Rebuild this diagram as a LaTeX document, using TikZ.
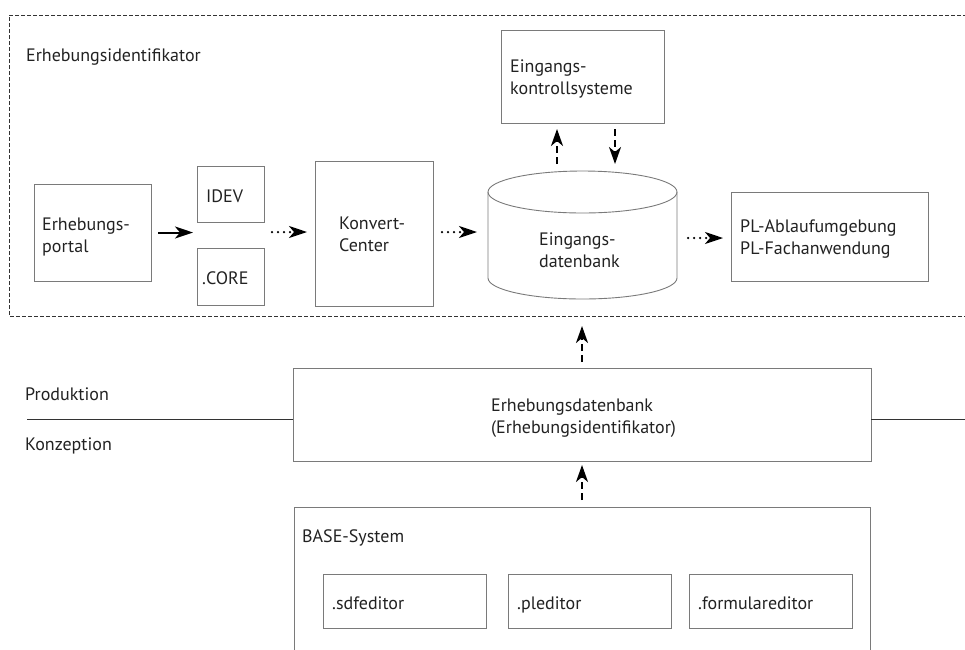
\documentclass[tikz,border=0pt]{standalone}
\usepackage{fontspec}
\setmainfont{PT Sans}
\usetikzlibrary{arrows.meta}
\definecolor{boxgray}{HTML}{7A7A7A}
\definecolor{txt}{HTML}{222222}
\definecolor{linegray}{HTML}{333333}
\tikzset{
  box/.style={draw=boxgray,line width=0.9pt,inner sep=0pt,outer sep=0pt},
  ghost/.style={inner sep=0pt,outer sep=0pt},
  lbl/.style={anchor=base west,inner sep=0pt,align=left,text=txt,font=\fontsize{18}{22}\selectfont},
  tipa/.style={-{Stealth[length=18pt,width=12pt,inset=5pt]}},
  solidarr/.style={tipa,line width=2pt,draw=black},
  dotarr/.style={tipa,line width=2.5pt,draw=black,line cap=round,dash pattern=on 0pt off 6pt},
  dasharr/.style={-{Stealth[length=17pt,width=12pt,inset=5pt]},line width=2.2pt,draw=black,dash pattern=on 7pt off 4pt},
  areaborder/.style={draw=linegray,line width=0.8pt,dash pattern=on 4pt off 2pt},
  sepline/.style={draw=linegray,line width=0.9pt}
}
\begin{document}
\begin{tikzpicture}[x=1pt,y=-1pt]
\useasboundingbox (0,0) rectangle (965,649);
\clip (0,0) rectangle (965,649);

% dashed area
\node[ghost,minimum width=958,minimum height=301] (area) at (488,165.5) {};
\draw[areaborder] (area.north east) -- (area.north west) -- (area.south west) -- (area.south east);
\node[lbl] (areat) at (26,61) {Erhebungsidentifikator};

% boxes (two-line labels are placed at the baseline of their last line)
\node[box,minimum width=117,minimum height=97] (portal) at (92.5,232.5) {};
\node[lbl] (portalt) at (42,252) {Erhebungs-\\portal};
\node[box,minimum width=67,minimum height=56] (idev) at (230.5,194) {};
\node[lbl] (idevt) at (206,202) {IDEV};
\node[box,minimum width=67,minimum height=57] (core) at (230.5,276.5) {};
\node[lbl] (coret) at (202,284) {.CORE};
\node[box,minimum width=118,minimum height=145] (konv) at (374,233.5) {};
\node[lbl] (konvt) at (339,251) {Konvert-\\Center};
\node[box,minimum width=163,minimum height=93] (eks) at (582.5,76.5) {};
\node[lbl] (ekst) at (510,94) {Eingangs-\\kontrollsysteme};
\node[box,minimum width=197,minimum height=89] (pl) at (829.5,236.5) {};
\node[lbl] (plt) at (740,254) {PL-Ablaufumgebung\\PL-Fachanwendung};

% cylinder
\node[ghost,minimum width=189,minimum height=128] (cyl) at (582.5,235) {};
\draw[boxgray,line width=0.9pt] (488,192) -- (488,278) arc[start angle=180,end angle=0,x radius=94.5,y radius=21] -- (677,192);
\draw[boxgray,line width=0.9pt] (582.5,192) ellipse[x radius=94.5,y radius=21];
\node[lbl] (cylt) at (539,267) {Eingangs-\\datenbank};

% lower part
\node[box,minimum width=578,minimum height=93] (edb) at (582,414.5) {};
\node[lbl] (edbt) at (491,433) {Erhebungsdatenbank\\(Erhebungsidentifikator)};
\coordinate (lend) at (27,419);
\coordinate (rend) at (966,419);
\draw[sepline] (lend) -- (lend -| edb.west);
\draw[sepline] (rend -| edb.east) -- (rend);
\node[lbl] (prod) at (25,400) {Produktion};
\node[lbl] (konz) at (25,450) {Konzeption};

\node[ghost,minimum width=576,minimum height=153] (base) at (582,583.5) {};
\draw[boxgray,line width=0.9pt] (base.south west) -- (base.north west) -- (base.north east) -- (base.south east);
\node[lbl] (baset) at (302,542) {BASE-System};
\node[box,minimum width=163,minimum height=54] (sdf) at (404.5,601) {};
\node[lbl] (sdft) at (332,609) {.sdfeditor};
\node[box,minimum width=163,minimum height=54] (ple) at (589.5,601) {};
\node[lbl] (plet) at (517,609) {.pleditor};
\node[box,minimum width=163,minimum height=54] (form) at (770.5,601) {};
\node[lbl] (formt) at (698,609) {.formulareditor};

% connectors
\draw[solidarr,shorten <=7pt,shorten >=4pt] (portal.east) -- (portal.east -| idev.west);
\draw[dotarr,shorten <=8pt,shorten >=8pt] ([yshift=1.5]konv.west -| idev.east) -- ([yshift=1.5]konv.west);
\draw[dotarr,shorten <=9pt,shorten >=11pt] ([yshift=1.5]konv.east) -- ([yshift=1.5]konv.east -| cyl.west);
\draw[dotarr,shorten <=11pt,shorten >=8pt] ([yshift=-1.5]pl.west -| cyl.east) -- ([yshift=-1.5]pl.west);
\draw[dasharr,shorten <=7pt,shorten >=6pt] ([xshift=-25.5]cyl.north) -- ([xshift=-25.5]eks.south);
\draw[dasharr,shorten <=6pt,shorten >=7pt] ([xshift=32.5]eks.south) -- ([xshift=32.5]cyl.north);
\draw[dasharr,shorten <=6pt,shorten >=10pt] (edb.north) -- (edb.north |- area.south);
\draw[dasharr,shorten <=7pt,shorten >=4pt] (edb.south |- base.north) -- (edb.south);
\end{tikzpicture}
\end{document}
